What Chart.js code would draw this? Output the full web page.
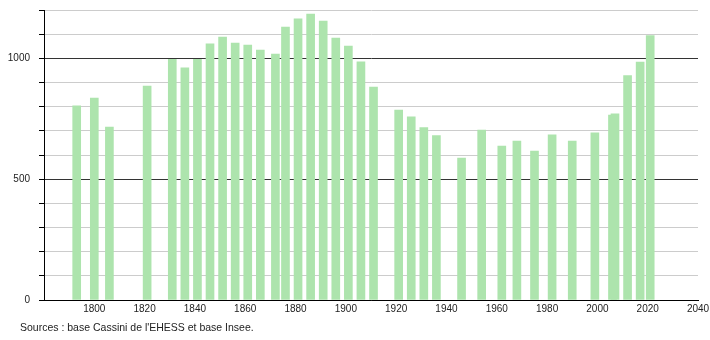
<!DOCTYPE html>
<html lang="fr">
<head>
<meta charset="utf-8">
<script src="https://cdn.jsdelivr.net/npm/chart.js@4"></script>
<style>
  html, body { margin: 0; padding: 0; background: #fff; }
  #wrap { position: relative; width: 710px; height: 340px; }
  #source {
    position: absolute; left: 20px; top: 321px;
    font: 10.5px "Liberation Sans", Arial, sans-serif; color: #222;
  }
</style>
</head>
<body>
<div id="wrap">
  <canvas id="popChart" width="710" height="340"></canvas>
  <div id="source">Sources : base Cassini de l'EHESS et base Insee.</div>
</div>
<script>
// ===========================
// DATA
// ===========================
const years = [1793, 1800, 1806, 1821, 1831, 1836, 1841, 1846, 1851, 1856,
               1861, 1866, 1872, 1876, 1881, 1886, 1891, 1896, 1901, 1906,
               1911, 1921, 1926, 1931, 1936, 1946, 1954, 1962, 1968, 1975,
               1982, 1990, 1999, 2006, 2007, 2012, 2017, 2021];
const population = [803, 836, 716, 885, 996, 961, 996, 1060, 1088, 1063,
                    1055, 1034, 1018, 1129, 1163, 1183, 1154, 1084, 1051, 986,
                    881, 786, 758, 713, 680, 587, 703, 637, 658, 616,
                    683, 658, 692, 765, 770, 929, 985, 1094];
const xLabels = [1800, 1820, 1840, 1860, 1880, 1900, 1920, 1940, 1960, 1980, 2000, 2020, 2040];
const yLabels = [0, 500, 1000];

const FONT = { family: '"Liberation Sans", Arial, sans-serif', size: 10 };

// ===========================
// CHART
// ===========================
new Chart(document.getElementById('popChart'), {
  type: 'bar',
  data: {
    datasets: [{
      data: years.map((y, i) => ({ x: y, y: population[i] })),
      backgroundColor: '#ade4ad',
      barThickness: 8,
      borderWidth: 0
    }]
  },
  options: {
    responsive: false,
    animation: false,
    events: [],
    layout: { padding: { top: 10, right: 12, left: 0, bottom: 0 } },
    plugins: { legend: { display: false }, tooltip: { enabled: false } },
    scales: {
      x: {
        type: 'linear',
        offset: false,
        min: 1780, max: 2040,
        afterFit: s => { s.height = 40; s.paddingLeft = 0; s.paddingRight = 0; },
        grid: { display: false, drawTicks: false },
        border: { color: '#000', width: 1 },
        ticks: {
          stepSize: 20, padding: 3, color: '#222', font: FONT, maxRotation: 0,
          callback: v => xLabels.includes(v) ? String(v) : ''
        }
      },
      y: {
        min: 0, max: 1200,
        afterFit: s => { s.width = 44; s.paddingTop = 0; s.paddingBottom = 0; },
        grid: {
          color: c => c.tick.value % 500 === 0 ? '#333' : '#ccc',
          tickColor: '#000',
          tickLength: 5
        },
        border: { color: '#000', width: 1 },
        ticks: {
          stepSize: 100, padding: 9, color: '#222', font: FONT,
          callback: v => yLabels.includes(v) ? String(v) : ''
        }
      }
    }
  }
});
</script>
</body>
</html>
